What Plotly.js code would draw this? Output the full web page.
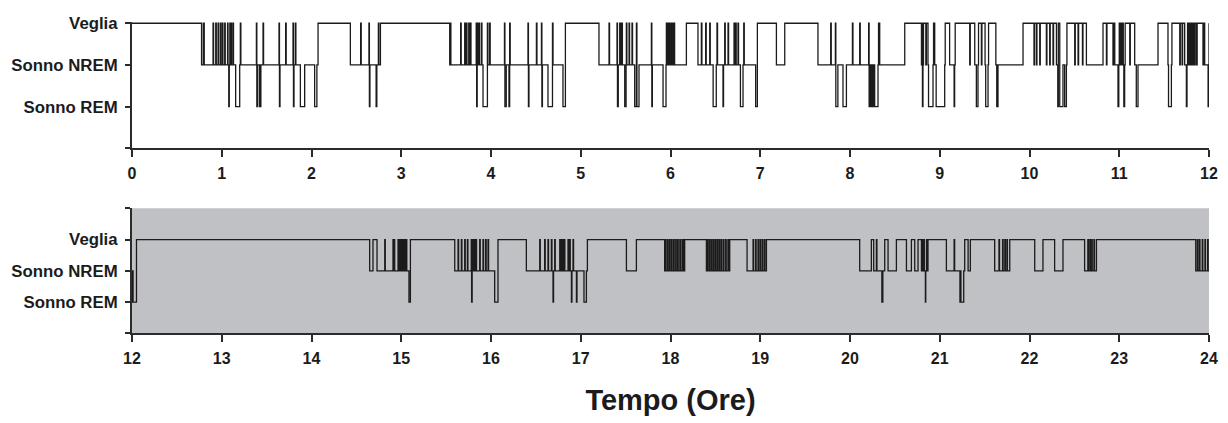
<!DOCTYPE html>
<html>
<head>
<meta charset="utf-8">
<script src="https://cdn.plot.ly/plotly-3.0.1.min.js"></script>
<style>
  html, body { margin: 0; padding: 0; background: #ffffff; }
  #chart { width: 1228px; height: 423px; }
</style>
</head>
<body>
<div id="chart"></div>
<script>
// Stage codes: 3 = Veglia, 2 = Sonno NREM, 1 = Sonno REM
const stageVals = [0, 1, 2, 3, 4];
const stageLabels = ['', 'Sonno REM', 'Sonno NREM', 'Veglia', ''];

const hoursTop = [0, 1, 2, 3, 4, 5, 6, 7, 8, 9, 10, 11, 12];
const hoursBottom = [12, 13, 14, 15, 16, 17, 18, 19, 20, 21, 22, 23, 24];

// First 12 hours: onset time (h) of each stage episode
const dayTime = [
  0, 0.775, 0.795, 0.805, 0.903, 0.909, 0.933, 0.939, 0.959, 0.965, 0.985, 0.991,
  1.007, 1.013, 1.033, 1.039, 1.065, 1.070, 1.078, 1.084, 1.090, 1.096, 1.103, 1.109,
  1.125, 1.131, 1.155, 1.200, 1.207, 1.213, 1.386, 1.391, 1.397, 1.418, 1.424, 1.430,
  1.436, 1.460, 1.466, 1.638, 1.643, 1.649, 1.712, 1.718, 1.794, 1.799, 1.805, 1.820,
  1.826, 1.876, 1.924, 2.035, 2.060, 2.073, 2.433, 2.548, 2.554, 2.640, 2.645, 2.651,
  2.720, 2.728, 2.745, 2.750, 2.768,
  3.540, 3.548, 3.553, 3.662, 3.668, 3.707, 3.713, 3.726, 3.732, 3.752, 3.758, 3.771,
  3.777, 3.835, 3.840, 3.846, 3.852, 3.858, 3.866, 3.872, 3.893, 3.899, 3.911, 3.960,
  3.966, 3.985, 3.991, 4.150, 4.155, 4.170, 4.200, 4.208, 4.214, 4.412, 4.417, 4.423,
  4.506, 4.512, 4.562, 4.567, 4.573, 4.635, 4.685, 4.691, 4.802, 4.829,
  5.203, 5.315, 5.321, 5.404, 5.409, 5.418, 5.434, 5.440, 5.446, 5.452, 5.458, 5.464,
  5.490, 5.505, 5.508, 5.514, 5.538, 5.544, 5.571, 5.577, 5.601, 5.620, 5.626, 5.649,
  5.787, 5.792, 5.798, 5.917, 5.950, 5.954, 5.960, 5.970, 5.976, 5.986, 5.992, 6.002,
  6.008, 6.020, 6.026, 6.040, 6.046,
  6.177, 6.306, 6.344, 6.350, 6.392, 6.398, 6.437, 6.443, 6.475, 6.510, 6.518, 6.524,
  6.585, 6.591, 6.604, 6.610, 6.641, 6.647, 6.708, 6.714, 6.726, 6.732, 6.752, 6.758,
  6.779, 6.808, 6.816, 6.822, 6.949, 6.968,
  7.180, 7.273, 7.643, 7.785, 7.791, 7.837, 7.842, 7.865, 7.922, 7.960,
  8.027, 8.033, 8.108, 8.114, 8.208, 8.213, 8.220, 8.232, 8.240, 8.252, 8.260, 8.275,
  8.312, 8.318, 8.331, 8.610, 8.796, 8.801, 8.807, 8.813, 8.819, 8.845, 8.851,
  8.869, 8.875, 8.925, 8.931, 8.944, 8.960,
  9.055, 9.061, 9.110, 9.160, 9.166, 9.172, 9.334, 9.340, 9.390, 9.408, 9.426, 9.432,
  9.464, 9.470, 9.505, 9.512, 9.538, 9.544, 9.625, 9.635, 9.649, 9.928,
  10.050, 10.056, 10.077, 10.083, 10.114, 10.120, 10.188, 10.194, 10.225, 10.231, 10.262, 10.268,
  10.300, 10.315, 10.321, 10.337, 10.373, 10.392, 10.411, 10.417, 10.504, 10.510, 10.541, 10.547,
  10.590, 10.596, 10.634, 10.819, 10.857, 10.863, 10.930, 10.936, 10.950, 10.986, 10.995, 11.000,
  11.014, 11.020, 11.034, 11.040, 11.045, 11.051, 11.060, 11.066, 11.117, 11.123, 11.172, 11.190,
  11.209, 11.432, 11.543, 11.549, 11.581, 11.587, 11.674, 11.680, 11.700, 11.706, 11.729, 11.748,
  11.755, 11.761, 11.772, 11.778, 11.790, 11.796, 11.806, 11.812, 11.822, 11.828, 11.840, 11.846,
  11.862, 11.868, 11.933, 11.939, 11.952, 11.990, 11.995, 12.0
];
const dayStage = [
  3, 2, 3, 2, 3, 2, 3, 2, 3, 2, 3, 2,
  3, 2, 3, 2, 3, 2, 1, 2, 3, 2, 3, 2,
  3, 2, 1, 2, 3, 2, 3, 1, 2, 1, 2, 1,
  2, 3, 2, 3, 1, 2, 3, 2, 3, 1, 2, 3,
  2, 1, 2, 1, 2, 3, 2, 3, 2, 3, 1, 2,
  1, 2, 3, 2, 3,
  2, 3, 2, 3, 2, 3, 2, 3, 2, 3, 2, 3,
  2, 3, 1, 2, 3, 2, 3, 2, 3, 2, 1, 3,
  2, 3, 2, 3, 1, 2, 1, 3, 2, 3, 1, 2,
  3, 2, 3, 1, 2, 1, 3, 2, 1, 3,
  2, 3, 2, 3, 1, 2, 3, 2, 3, 2, 3, 2,
  1, 2, 3, 2, 3, 2, 3, 2, 1, 3, 1, 2,
  3, 1, 2, 1, 2, 3, 2, 3, 2, 3, 2, 3,
  2, 3, 2, 3, 2,
  3, 2, 3, 2, 3, 2, 3, 2, 1, 2, 3, 2,
  1, 2, 3, 2, 3, 2, 3, 2, 3, 2, 3, 2,
  1, 2, 3, 2, 1, 3,
  2, 3, 2, 3, 2, 3, 1, 2, 1, 2,
  3, 2, 3, 2, 3, 1, 2, 1, 2, 1, 2, 1,
  2, 3, 2, 3, 2, 3, 1, 2, 3, 2, 3, 2,
  1, 2, 3, 2, 1, 2,
  3, 2, 1, 2, 3, 2, 3, 2, 1, 2, 3, 2,
  3, 2, 1, 2, 3, 2, 1, 2, 3, 2,
  3, 2, 3, 2, 3, 2, 3, 2, 3, 2, 3, 2,
  1, 3, 1, 2, 1, 2, 3, 2, 3, 2, 3, 2,
  3, 2, 3, 2, 3, 2, 3, 2, 1, 2, 3, 2,
  3, 2, 3, 2, 1, 2, 3, 2, 3, 2, 1, 2,
  3, 2, 1, 2, 3, 2, 3, 2, 3, 2, 1, 2,
  3, 2, 3, 2, 3, 2, 3, 2, 3, 2, 3, 2,
  3, 2, 3, 2, 1, 2, 3, 3
];

// Hours 12-24: onset time (h) of each stage episode
const nightTime = [
  12.000, 12.003, 12.008, 12.012, 12.050, 14.648, 14.685, 14.730, 14.816, 14.822,
  14.908, 14.914, 14.921, 14.927, 14.964, 14.970, 14.980, 14.986, 14.996, 15.002,
  15.012, 15.018, 15.028, 15.034, 15.044, 15.050, 15.056, 15.062, 15.086, 15.102,
  15.596, 15.633, 15.639, 15.670, 15.676, 15.707, 15.713, 15.737, 15.743, 15.780,
  15.784, 15.790, 15.797, 15.803, 15.810, 15.816, 15.823, 15.829, 15.833, 15.839,
  15.874, 15.880, 15.911, 15.917, 15.940, 15.946, 15.967, 15.973, 16.041, 16.078,
  16.394, 16.543, 16.549, 16.598, 16.604, 16.635, 16.641, 16.673, 16.679, 16.691,
  16.697, 16.710, 16.716, 16.766, 16.772, 16.780, 16.786, 16.794, 16.800, 16.806,
  16.812, 16.817, 16.823, 16.858, 16.864, 16.877, 16.883, 16.896, 16.902, 16.914,
  16.920, 16.952, 16.958, 17.036, 17.063, 17.074, 17.509, 17.620, 17.935,
  17.945, 17.951, 17.968, 17.974, 17.990, 17.996, 18.012, 18.018, 18.035, 18.041,
  18.058, 18.064, 18.080, 18.086, 18.104, 18.110, 18.128, 18.134, 18.148, 18.152,
  18.158, 18.400,
  18.412, 18.418, 18.434, 18.440, 18.456, 18.462, 18.478, 18.484, 18.500, 18.506,
  18.522, 18.528, 18.544, 18.550, 18.566, 18.572, 18.590, 18.596, 18.615, 18.621,
  18.640, 18.646, 18.660, 18.853,
  18.920, 18.926, 18.948, 18.954, 18.975, 18.981, 18.998, 19.004, 19.022, 19.028,
  19.046, 19.052, 19.069,
  20.108, 20.238, 20.264, 20.294, 20.300, 20.355, 20.366, 20.387, 20.424, 20.517,
  20.629, 20.684, 20.721, 20.758, 20.796, 20.805, 20.811, 20.822, 20.828,
  20.840, 20.844, 20.852, 20.858, 20.869, 21.074, 21.160, 21.166, 21.225,
  21.231, 21.236, 21.267, 21.278, 21.316, 21.341, 21.612, 21.660, 21.666, 21.700,
  21.706, 21.725, 21.731, 21.748, 21.754, 21.780, 22.058, 22.150,
  22.280, 22.373, 22.614, 22.650, 22.656, 22.672, 22.678, 22.693, 22.699, 22.718,
  22.724, 22.746, 23.852, 23.870, 23.876, 23.893, 23.899, 23.925, 23.931, 23.955,
  23.961, 23.985, 23.991, 24.0
];
const nightStage = [
  2, 1, 2, 1, 3, 2, 3, 2, 3, 2,
  3, 2, 3, 2, 3, 2, 3, 2, 3, 2,
  3, 2, 3, 2, 3, 2, 3, 2, 1, 3,
  2, 3, 2, 3, 2, 3, 2, 3, 2, 3,
  1, 2, 3, 2, 3, 2, 3, 2, 3, 2,
  3, 2, 3, 2, 3, 2, 3, 2, 1, 3,
  2, 3, 2, 3, 2, 3, 2, 3, 2, 1,
  2, 3, 2, 3, 2, 3, 2, 3, 2, 3,
  2, 3, 2, 3, 2, 3, 2, 1, 2, 3,
  2, 1, 2, 1, 2, 3, 2, 3, 2,
  3, 2, 3, 2, 3, 2, 3, 2, 3, 2,
  3, 2, 3, 2, 3, 2, 3, 2, 3, 2,
  3, 2,
  3, 2, 3, 2, 3, 2, 3, 2, 3, 2,
  3, 2, 3, 2, 3, 2, 3, 2, 3, 2,
  3, 2, 3, 2,
  3, 2, 3, 2, 3, 2, 3, 2, 3, 2,
  3, 2, 3,
  2, 3, 2, 3, 2, 1, 2, 3, 2, 3,
  2, 3, 2, 3, 2, 3, 2, 3, 2,
  1, 2, 3, 2, 3, 2, 3, 2, 1,
  2, 1, 2, 3, 2, 3, 2, 3, 2, 3,
  2, 3, 2, 3, 2, 3, 2, 3,
  2, 3, 2, 3, 2, 3, 2, 3, 2, 3,
  2, 3, 2, 3, 2, 3, 2, 3, 2, 3,
  2, 3, 2, 2
];

const ink = '#1b1b1b';
const boldFont = (size) => ({ family: 'Liberation Sans, Arial, sans-serif', size: size, color: ink, weight: 'bold' });

const traces = [
  {
    x: dayTime, y: dayStage, xaxis: 'x', yaxis: 'y',
    type: 'scatter', mode: 'lines',
    line: { shape: 'hv', color: ink, width: 1.3 },
    hoverinfo: 'skip', showlegend: false
  },
  {
    x: nightTime, y: nightStage, xaxis: 'x2', yaxis: 'y2',
    type: 'scatter', mode: 'lines',
    line: { shape: 'hv', color: ink, width: 1.3 },
    hoverinfo: 'skip', showlegend: false
  }
];

const H = 423;
const xCommon = {
  showgrid: false, zeroline: false, showline: true,
  linecolor: '#2b2b2b', linewidth: 2,
  ticks: 'outside', ticklen: 7, tickwidth: 2, tickcolor: '#2b2b2b',
  tickfont: boldFont(16), ticklabelstandoff: 2
};
const yCommon = {
  showgrid: false, zeroline: false, showline: true,
  linecolor: '#2b2b2b', linewidth: 2,
  ticks: 'outside', ticklen: 5, tickwidth: 2, tickcolor: '#2b2b2b',
  tickfont: boldFont(16.8), ticklabelstandoff: 4,
  tickmode: 'array'
};

const layout = {
  width: 1228, height: H,
  margin: { l: 132, r: 19, t: 0, b: 0 },
  paper_bgcolor: '#ffffff', plot_bgcolor: 'rgba(0,0,0,0)',
  xaxis: Object.assign({}, xCommon, {
    domain: [0, 1], anchor: 'y', range: [0, 12],
    tickmode: 'array', tickvals: hoursTop, ticktext: hoursTop.map(String)
  }),
  yaxis: Object.assign({}, yCommon, {
    domain: [1 - 148.3 / H, 1 - 21.6 / H], anchor: 'x', range: [0, 3.04],
    tickvals: stageVals.slice(0, 4), ticktext: stageLabels.slice(0, 4)
  }),
  xaxis2: Object.assign({}, xCommon, {
    domain: [0, 1], anchor: 'y2', range: [12, 24],
    tickmode: 'array', tickvals: hoursBottom, ticktext: hoursBottom.map(String),
    title: { text: 'Tempo (Ore)', font: boldFont(29), standoff: 24 }
  }),
  yaxis2: Object.assign({}, yCommon, {
    domain: [1 - 333.3 / H, 1 - 208.3 / H], anchor: 'x2', range: [0, 4],
    tickvals: stageVals, ticktext: stageLabels
  }),
  shapes: [
    {
      type: 'rect', layer: 'below',
      xref: 'x2 domain', yref: 'y2 domain',
      x0: 0, x1: 1, y0: 0, y1: 1,
      fillcolor: '#c0c1c5', line: { width: 0 }
    }
  ]
};

Plotly.newPlot('chart', traces, layout, { staticPlot: true, displayModeBar: false });
</script>
</body>
</html>
